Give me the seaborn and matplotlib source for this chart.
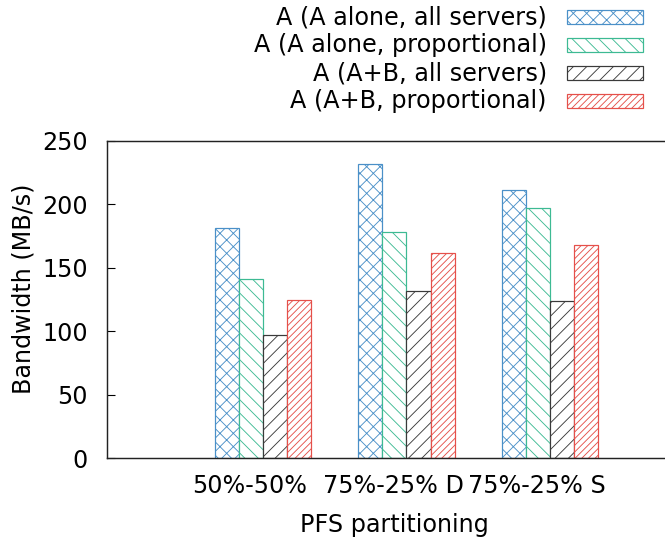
import numpy as np
import pandas as pd
import matplotlib
matplotlib.use("Agg")
import matplotlib.pyplot as plt
from matplotlib.patches import Rectangle
import seaborn as sns

# ---- data ----
partitions = ["50%-50%", "75%-25% D", "75%-25% S"]
series = ["A (A alone, all servers)", "A (A alone, proportional)",
          "A (A+B, all servers)", "A (A+B, proportional)"]
a_alone_all = [181, 232, 211]
a_alone_prop = [141, 178, 197]
ab_all = [97, 132, 124]
ab_prop = [125, 162, 168]
yticks = [0, 50, 100, 150, 200, 250]

colors = ["#4a90c8", "#3dba93", "#3a3a3a", "#e5504a"]
hatches = ["xx", "\\\\", "//", "////"]

values = [a_alone_all, a_alone_prop, ab_all, ab_prop]
rows = []
for s, vals in zip(series, values):
    for p, v in zip(partitions, vals):
        rows.append({"partition": p, "series": s, "bw": v})
df = pd.DataFrame(rows)

sns.set_style("ticks")
plt.rcParams["font.family"] = ["DejaVu Sans"]
plt.rcParams["hatch.linewidth"] = 0.8
plt.rcParams["text.color"] = "black"
plt.rcParams["axes.labelcolor"] = "black"
plt.rcParams["xtick.color"] = "black"
plt.rcParams["ytick.color"] = "black"
FS = 21.5

W, H, DPI = 665, 545, 80
fig = plt.figure(figsize=(W / DPI, H / DPI), dpi=DPI)
ax = fig.add_axes([107 / W, 87 / H, 574 / W, 317 / H])

sns.barplot(data=df, x="partition", y="bw", hue="series", hue_order=series,
            order=partitions, palette=colors, width=0.67, legend=False,
            errorbar=None, ax=ax)

for cont, col, hat in zip(ax.containers, colors, hatches):
    for bar in cont:
        bar.set_facecolor("white")
        bar.set_edgecolor(col)
        bar.set_hatch(hat)
        bar.set_linewidth(1.1)

ax.set_xlim(-1.087, 2.913)
ax.set_ylim(0, 250)
ax.set_yticks(yticks)
ax.set_xticks(np.arange(len(partitions)) - 0.09)
ax.set_xticklabels(partitions)
ax.tick_params(axis="x", length=0, pad=14, labelsize=FS, labelcolor="black")
ax.tick_params(axis="y", direction="in", length=7, width=1, pad=17,
               labelsize=FS, right=True, labelcolor="black")
for sp in ax.spines.values():
    sp.set_visible(True)
    sp.set_color("#222222")
    sp.set_linewidth(1.3)

ax.set_xlabel("PFS partitioning", fontsize=FS, labelpad=14, color="black")
ax.set_ylabel("Bandwidth (MB/s)", fontsize=FS, color="black")
ax.yaxis.set_label_coords(-0.125, 0.535)

# legend (gnuplot-style, right-aligned text with swatch on the right)
for i, (name, col, hat) in enumerate(zip(series, colors, hatches)):
    yc = 17 + 28 * i
    fig.text(547 / W, 1 - yc / H, name, ha="right", va="center",
             fontsize=FS, color="black")
    rect = Rectangle((567 / W, 1 - (yc + 7) / H), 76 / W, 14 / H,
                     transform=fig.transFigure, facecolor="white",
                     edgecolor=col, hatch=hat, linewidth=1.1)
    fig.add_artist(rect)

fig.savefig("out.png", dpi=DPI)
